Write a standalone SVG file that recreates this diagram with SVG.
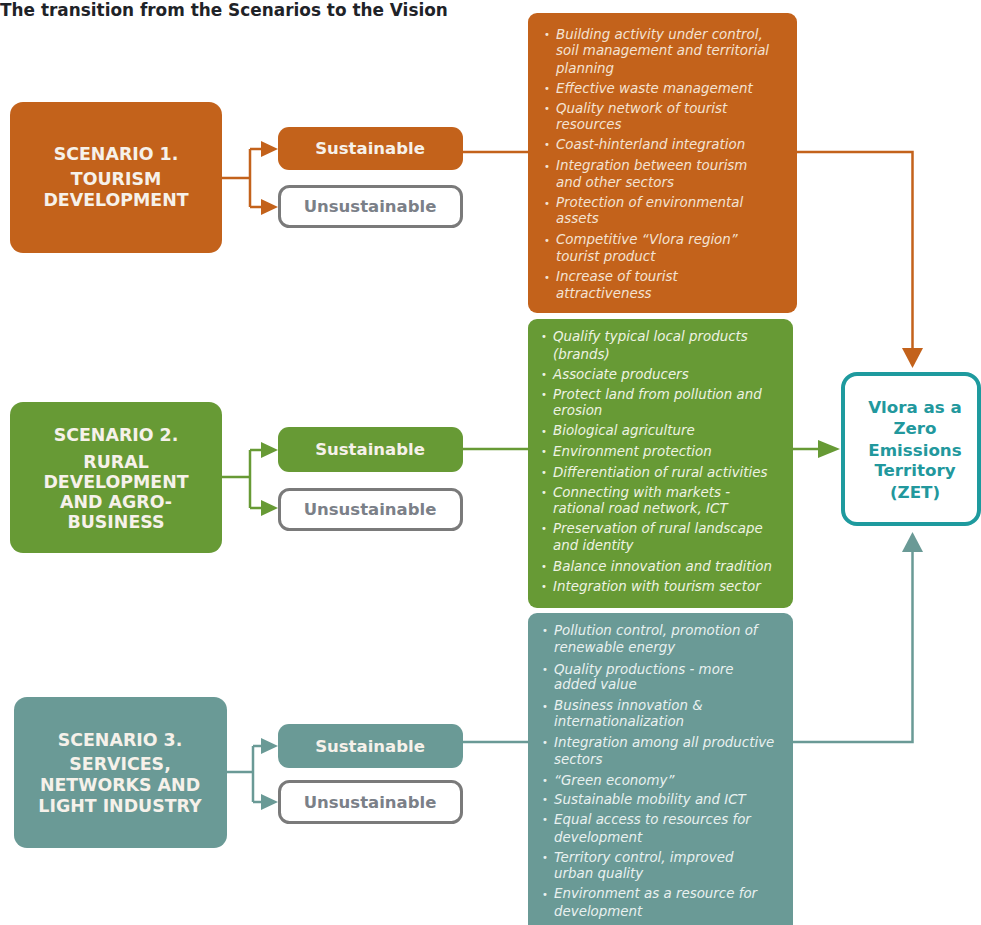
<svg xmlns="http://www.w3.org/2000/svg" width="981" height="925" viewBox="0 0 981 925">
<style>
.title{font-family:"DejaVu Sans",Verdana,sans-serif;font-weight:bold;font-size:16.9px;fill:#1f2328}
.scn{font-family:"DejaVu Sans",Verdana,sans-serif;font-weight:bold;font-size:17.4px;fill:#f6f1ea;text-anchor:middle}
.sus{font-family:"DejaVu Sans",Verdana,sans-serif;font-weight:bold;font-size:16.5px;fill:#f6f1ea;text-anchor:middle}
.uns{font-family:"DejaVu Sans",Verdana,sans-serif;font-weight:bold;font-size:16.5px;fill:#7b8088;text-anchor:middle}
.unsbox{fill:#ffffff;stroke:#7a7a7a;stroke-width:3}
.li{font-family:"DejaVu Sans",Verdana,sans-serif;font-style:italic;font-size:13.4px}
.bul{font-family:"DejaVu Sans",sans-serif;font-size:10px}
.o{fill:#f4e3d3}
.g{fill:#eef3e2}
.t{fill:#e9f1f0}
.zet{font-family:"DejaVu Sans",Verdana,sans-serif;font-weight:bold;font-size:16.7px;fill:#22989d;text-anchor:middle}
.co{fill:none;stroke:#c3621b;stroke-width:2.5}
.cg{fill:none;stroke:#679a35;stroke-width:2.5}
.ct{fill:none;stroke:#6a9a96;stroke-width:2.5}
</style>
<text class="title" x="0" y="16">The transition from the Scenarios to the Vision</text>

<g id="connectors">
  <!-- scenario 1 -->
  <path class="co" d="M222 178 H250 M250 149 V207 M250 149 H262 M250 207 H262"/>
  <polygon points="261,141 278,149 261,157" fill="#c3621b"/>
  <polygon points="261,199 278,207 261,215" fill="#c3621b"/>
  <path class="co" d="M463 152 H528"/>
  <path class="co" d="M797 152 H912.5 V350"/>
  <polygon points="902,348 923,348 912.5,368" fill="#c3621b"/>
  <!-- scenario 2 -->
  <path class="cg" d="M222 477 H250 M250 450 V508 M250 450 H262 M250 508 H262"/>
  <polygon points="261,442 278,450 261,458" fill="#679a35"/>
  <polygon points="261,500 278,508 261,516" fill="#679a35"/>
  <path class="cg" d="M463 449 H528"/>
  <path class="cg" d="M793 449 H820"/>
  <polygon points="818,440 840,449 818,458" fill="#679a35"/>
  <!-- scenario 3 -->
  <path class="ct" d="M227 772 H253 M253 746 V802 M253 746 H262 M253 802 H262"/>
  <polygon points="261,738 278,746 261,754" fill="#6a9a96"/>
  <polygon points="261,794 278,802 261,810" fill="#6a9a96"/>
  <path class="ct" d="M463 742 H528"/>
  <path class="ct" d="M793 742 H912.5 V550"/>
  <polygon points="902,552 923,552 912.5,532" fill="#6a9a96"/>
</g>

<g id="scenario1">
  <rect x="10" y="102" width="212" height="151" rx="13" fill="#c3621b"/>
  <text class="scn" x="116" y="160">SCENARIO 1.</text>
  <text class="scn" x="116" y="185">TOURISM</text>
  <text class="scn" x="116" y="206">DEVELOPMENT</text>
</g>
<g id="sustainable1">
  <rect x="278" y="127" width="185" height="43" rx="11" fill="#c3621b"/>
  <text class="sus" x="370" y="154">Sustainable</text>
</g>
<g id="unsustainable1">
  <rect class="unsbox" x="279.5" y="186.5" width="182" height="40" rx="10"/>
  <text class="uns" x="370" y="212">Unsustainable</text>
</g>
<g id="list1">
  <rect x="528" y="13" width="269" height="300" rx="9" fill="#c3621b"/>
  <g class="bul o">
    <text x="544" y="38">•</text><text x="544" y="92">•</text><text x="544" y="112">•</text><text x="544" y="148">•</text><text x="544" y="170">•</text><text x="544" y="207">•</text><text x="544" y="244">•</text><text x="544" y="281">•</text>
  </g>
  <text class="li o" x="556" y="38.5">Building activity under control,</text>
  <text class="li o" x="556" y="55">soil management and territorial</text>
  <text class="li o" x="556" y="72.5">planning</text>
  <text class="li o" x="556" y="92.5">Effective waste management</text>
  <text class="li o" x="556" y="112.5">Quality network of tourist</text>
  <text class="li o" x="556" y="128.5">resources</text>
  <text class="li o" x="556" y="148.5">Coast-hinterland integration</text>
  <text class="li o" x="556" y="170">Integration between tourism</text>
  <text class="li o" x="556" y="187">and other sectors</text>
  <text class="li o" x="556" y="207">Protection of environmental</text>
  <text class="li o" x="556" y="223">assets</text>
  <text class="li o" x="556" y="244">Competitive “Vlora region”</text>
  <text class="li o" x="556" y="261">tourist product</text>
  <text class="li o" x="556" y="281">Increase of tourist</text>
  <text class="li o" x="556" y="297.5">attractiveness</text>
</g>

<g id="scenario2">
  <rect x="10" y="402" width="212" height="151" rx="13" fill="#679a35"/>
  <text class="scn" x="116" y="441">SCENARIO 2.</text>
  <text class="scn" x="116" y="468">RURAL</text>
  <text class="scn" x="116" y="488">DEVELOPMENT</text>
  <text class="scn" x="116" y="508">AND AGRO-</text>
  <text class="scn" x="116" y="528">BUSINESS</text>
</g>
<g id="sustainable2">
  <rect x="278" y="427" width="185" height="45" rx="11" fill="#679a35"/>
  <text class="sus" x="370" y="455">Sustainable</text>
</g>
<g id="unsustainable2">
  <rect class="unsbox" x="279.5" y="489.5" width="182" height="40" rx="10"/>
  <text class="uns" x="370" y="515">Unsustainable</text>
</g>
<g id="list2">
  <rect x="528" y="319" width="265" height="289" rx="9" fill="#679a35"/>
  <g class="bul g">
    <text x="541" y="340">•</text><text x="541" y="378">•</text><text x="541" y="398">•</text><text x="541" y="435">•</text><text x="541" y="455">•</text><text x="541" y="476">•</text><text x="541" y="496">•</text><text x="541" y="532">•</text><text x="541" y="570">•</text><text x="541" y="590">•</text>
  </g>
  <text class="li g" x="553" y="341">Qualify typical local products</text>
  <text class="li g" x="553" y="358.5">(brands)</text>
  <text class="li g" x="553" y="379">Associate producers</text>
  <text class="li g" x="553" y="398.5">Protect land from pollution and</text>
  <text class="li g" x="553" y="415">erosion</text>
  <text class="li g" x="553" y="435">Biological agriculture</text>
  <text class="li g" x="553" y="456">Environment protection</text>
  <text class="li g" x="553" y="476.5">Differentiation of rural activities</text>
  <text class="li g" x="553" y="496.5">Connecting with markets -</text>
  <text class="li g" x="553" y="512.5">rational road network, ICT</text>
  <text class="li g" x="553" y="532.5">Preservation of rural landscape</text>
  <text class="li g" x="553" y="550">and identity</text>
  <text class="li g" x="553" y="571">Balance innovation and tradition</text>
  <text class="li g" x="553" y="591">Integration with tourism sector</text>
</g>

<g id="scenario3">
  <rect x="14" y="697" width="213" height="151" rx="13" fill="#6a9a96"/>
  <text class="scn" x="120" y="746">SCENARIO 3.</text>
  <text class="scn" x="120" y="770">SERVICES,</text>
  <text class="scn" x="120" y="791">NETWORKS AND</text>
  <text class="scn" x="120" y="812">LIGHT INDUSTRY</text>
</g>
<g id="sustainable3">
  <rect x="278" y="724" width="185" height="44" rx="11" fill="#6a9a96"/>
  <text class="sus" x="370" y="752">Sustainable</text>
</g>
<g id="unsustainable3">
  <rect class="unsbox" x="279.5" y="781.5" width="182" height="41" rx="10"/>
  <text class="uns" x="370" y="808">Unsustainable</text>
</g>
<g id="list3">
  <rect x="528" y="613" width="265" height="330" rx="9" fill="#6a9a96"/>
  <g class="bul t">
    <text x="542" y="634">•</text><text x="542" y="673">•</text><text x="542" y="710">•</text><text x="542" y="746">•</text><text x="542" y="784">•</text><text x="542" y="803">•</text><text x="542" y="823">•</text><text x="542" y="861">•</text><text x="542" y="898">•</text>
  </g>
  <text class="li t" x="554" y="635">Pollution control, promotion of</text>
  <text class="li t" x="554" y="651.5">renewable energy</text>
  <text class="li t" x="554" y="673.5">Quality productions - more</text>
  <text class="li t" x="554" y="689">added value</text>
  <text class="li t" x="554" y="710">Business innovation &amp;</text>
  <text class="li t" x="554" y="726">internationalization</text>
  <text class="li t" x="554" y="747">Integration among all productive</text>
  <text class="li t" x="554" y="764">sectors</text>
  <text class="li t" x="554" y="785">“Green economy”</text>
  <text class="li t" x="554" y="803.5">Sustainable mobility and ICT</text>
  <text class="li t" x="554" y="823.5">Equal access to resources for</text>
  <text class="li t" x="554" y="841.5">development</text>
  <text class="li t" x="554" y="861.5">Territory control, improved</text>
  <text class="li t" x="554" y="878">urban quality</text>
  <text class="li t" x="554" y="898">Environment as a resource for</text>
  <text class="li t" x="554" y="916">development</text>
</g>

<g id="zet">
  <rect x="843" y="374" width="136" height="150" rx="14" fill="#ffffff" stroke="#1e9a9e" stroke-width="4"/>
  <text class="zet" x="915" y="413">Vlora as a</text>
  <text class="zet" x="915" y="434">Zero</text>
  <text class="zet" x="915" y="456">Emissions</text>
  <text class="zet" x="915" y="476">Territory</text>
  <text class="zet" x="915" y="498">(ZET)</text>
</g>
</svg>
